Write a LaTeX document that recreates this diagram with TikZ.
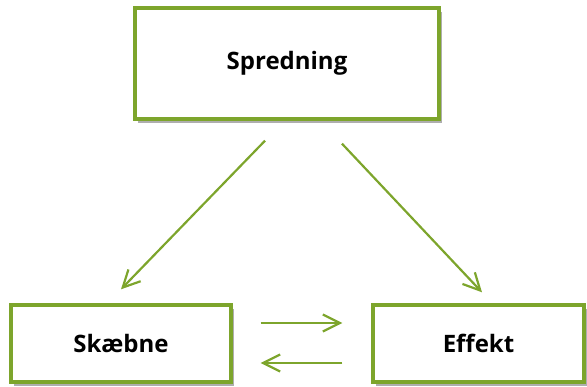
\documentclass[tikz,border=0pt]{standalone}
\usepackage{fontspec}
\setmainfont{Open Sans}
\usepackage{tikz}
\usetikzlibrary{arrows.meta,shadows}

\definecolor{leafgreen}{HTML}{7DA52C}

\begin{document}
\begin{tikzpicture}[
  x=1pt,y=1pt,
  font=\bfseries\fontsize{24}{28}\selectfont,
  box/.style={draw=leafgreen,line width=3.4pt,fill=white,inner sep=0pt,
    drop shadow={shadow xshift=3pt,shadow yshift=-4pt,opacity=0.45,fill=black!70}},
  link/.style={draw=leafgreen,line width=2.2pt,
    -{Straight Barb[length=17pt,width=17pt,line width=2.2pt]}}
]

% -------------------------
% Geometry
% -------------------------
\def\xTop{287}
\def\xLeft{121}
\def\xRight{478.5}
\def\yTop{-63.5}
\def\yBottom{-343.5}

\useasboundingbox (0,0) rectangle (587,-387);

% -------------------------
% Boxes
% -------------------------
\node[box,minimum width=304pt,minimum height=111pt] (spred) at (\xTop,\yTop) {Spredning};
\node[box,minimum width=220pt,minimum height=77pt] (skaebne) at (\xLeft,\yBottom) {Skæbne};
\node[box,minimum width=211pt,minimum height=77pt] (effekt) at (\xRight,\yBottom) {Effekt};

% -------------------------
% Connectors
% -------------------------
\draw[link] ([xshift=-22pt,yshift=-20pt]spred.south) -- ([yshift=14pt]skaebne.north);
\draw[link] ([xshift=55pt,yshift=-23pt]spred.south) -- ([xshift=3.5pt,yshift=11pt]effekt.north);

\draw[link] ([xshift=28pt,yshift=20.5pt]skaebne.east) -- ([xshift=-29pt,yshift=20.5pt]effekt.west);
\draw[link] ([xshift=-29pt,yshift=-19.5pt]effekt.west) -- ([xshift=28pt,yshift=-19.5pt]skaebne.east);

\end{tikzpicture}
\end{document}
